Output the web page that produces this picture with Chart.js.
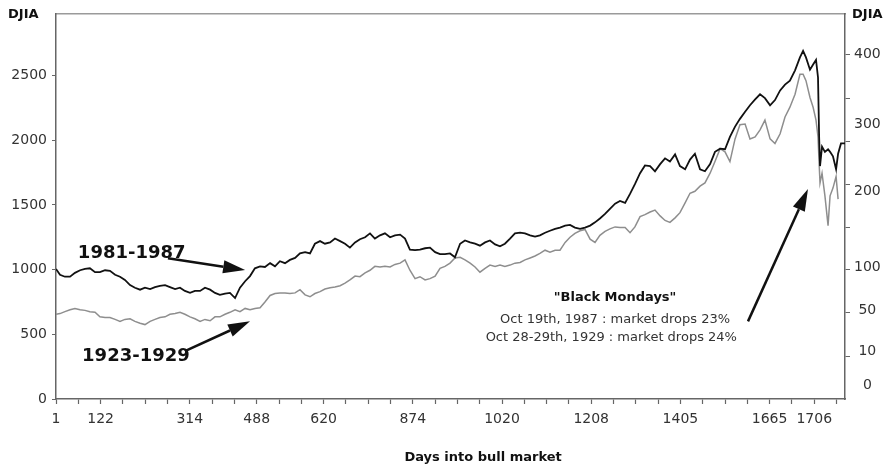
<!DOCTYPE html>
<html>
<head>
<meta charset="utf-8">
<script src="https://cdn.jsdelivr.net/npm/chart.js@4.4.0/dist/chart.umd.min.js"></script>
<style>
  html, body { margin: 0; padding: 0; background: #fff; }
</style>
</head>
<body>
<canvas id="djiaChart" width="887" height="466"></canvas>
<script>
"use strict";

// DATA -----------------------
// x is measured in tick steps of the bottom axis (the day labels are not evenly spaced)
const positions = [
  0, 0.18, 0.40, 0.63, 0.85, 1.08, 1.30, 1.52, 1.75, 1.97,
  2.20, 2.42, 2.65, 2.87, 3.09, 3.32, 3.54, 3.77, 3.99, 4.22,
  4.44, 4.66, 4.89, 5.11, 5.34, 5.56, 5.78, 6.01, 6.23, 6.46,
  6.68, 6.91, 7.13, 7.35, 7.58, 7.80, 8.03, 8.25, 8.48, 8.70,
  8.92, 9.15, 9.37, 9.60, 9.82, 10.04, 10.27, 10.49, 10.72, 10.94,
  11.17, 11.39, 11.61, 11.84, 12.06, 12.29, 12.51, 12.74, 12.96, 13.18,
  13.41, 13.63, 13.86, 14.08, 14.30, 14.53, 14.75, 14.98, 15.20, 15.43,
  15.65, 15.87, 16.10, 16.32, 16.55, 16.77, 17.00, 17.22, 17.44, 17.67,
  17.89, 18.12, 18.34, 18.57, 18.79, 19.01, 19.24, 19.46, 19.69, 19.91,
  20.13, 20.36, 20.58, 20.81, 21.03, 21.26, 21.48, 21.70, 21.93, 22.15,
  22.38, 22.60, 22.83, 23.05, 23.27, 23.50, 23.72, 23.95, 24.17, 24.39,
  24.62, 24.84, 25.07, 25.29, 25.52, 25.74, 25.96, 26.19, 26.41, 26.64,
  26.86, 27.09, 27.31, 27.53, 27.76, 27.98, 28.21, 28.43, 28.65, 28.88,
  29.10, 29.33, 29.55, 29.78, 30.00, 30.22, 30.45, 30.67, 30.90, 31.12,
  31.35, 31.57, 31.79, 32.02, 32.24, 32.47, 32.69, 32.91, 33.14, 33.36,
  33.50, 33.63, 33.81, 33.95, 34.08, 34.17, 34.22, 34.26, 34.35, 34.48,
  34.62, 34.71, 34.84, 34.98, 35.07, 35.20, 35.38
];

// 1981-1987, left axis
const djia1981 = [
  1005, 960, 945, 945, 975, 995, 1005, 1010, 980, 980,
  995, 990, 960, 945, 920, 880, 860, 845, 860, 850,
  865, 875, 880, 865, 850, 860, 835, 820, 835, 835,
  860, 845, 820, 805, 815, 820, 780, 860, 910, 950,
  1010, 1025, 1020, 1050, 1025, 1065, 1050, 1075, 1090, 1125,
  1135, 1125, 1200, 1220, 1200, 1210, 1240, 1220, 1200, 1170,
  1210, 1235, 1250, 1280, 1240, 1265, 1280, 1250, 1265, 1270,
  1240, 1155, 1150, 1155, 1165, 1170, 1135, 1120, 1120, 1125,
  1095, 1200, 1225, 1210, 1200, 1185, 1210, 1225, 1195, 1180,
  1200, 1240, 1280, 1285, 1280, 1265, 1255, 1265, 1285, 1300,
  1315, 1325, 1340, 1345, 1325, 1315, 1325, 1340, 1365, 1395,
  1430, 1470, 1510, 1530, 1515, 1585, 1660, 1745, 1805, 1800,
  1760, 1815, 1860, 1835, 1890, 1800, 1775, 1850, 1895, 1775,
  1760, 1815, 1910, 1935, 1930, 2025, 2105, 2165, 2220, 2270,
  2315, 2355, 2325, 2270, 2310, 2385, 2430, 2460, 2540, 2640,
  2690, 2640, 2545, 2585, 2620, 2485, 2025, 1800, 1950, 1910,
  1930, 1910, 1875, 1775, 1895, 1975, 1975
];

// 1923-1929, read against the left axis
const djia1923 = [
  655, 660, 675, 690, 700, 690, 685, 675, 670, 635,
  630, 630, 615, 600, 615, 620, 600, 585, 575, 600,
  615, 630, 635, 655, 660, 670, 655, 635, 620, 600,
  615, 605, 635, 635, 655, 670, 690, 675, 700, 690,
  700, 705, 750, 800, 815, 820, 820, 815, 820, 845,
  805, 790, 815, 830, 850, 860, 865, 875, 895, 920,
  950, 945, 975, 995, 1025, 1020, 1025, 1020, 1040, 1050,
  1075, 995, 930, 945, 920, 930, 950, 1010, 1025, 1050,
  1090, 1095, 1075, 1050, 1020, 980, 1010, 1035, 1025, 1035,
  1025, 1035, 1050, 1055, 1075, 1090, 1105, 1125, 1150, 1135,
  1150, 1150, 1210, 1250, 1280, 1300, 1310, 1235, 1210, 1265,
  1295, 1315, 1330, 1325, 1325, 1285, 1330, 1410, 1425, 1445,
  1460, 1415, 1380, 1365, 1400, 1440, 1515, 1590, 1605, 1645,
  1670, 1745, 1835, 1935, 1910, 1835, 2010, 2120, 2125, 2010,
  2025, 2080, 2155, 2010, 1975, 2050, 2180, 2255, 2355, 2510,
  2510, 2460, 2330, 2255, 2155, 2025, 1820, 1670, 1745, 1570,
  1340, 1570, 1630, 1720, 1545, null, null
];

const xTickPos = [0, 2, 6, 9, 12, 16, 20, 24, 28, 32, 34];
const xTickLabels = ['1', '122', '314', '488', '620', '874', '1020', '1208', '1405', '1665', '1706'];

const leftTicks = [0, 500, 1000, 1500, 2000, 2500];

// right axis: labels and tick marks, placed in left-axis units
const rightTickLabels = ['400', '300', '200', '100', '50', '10', '0'];
const rightTickValues = [2660, 2126, 1607, 1019, 683, 370, 103];
const rightMarkValues = [2660, 2324, 1989, 1661, 1326, 1004, 668, 332];

const Y_MAX = 2980;
const X_MAX = 35.38;

// OPTIONS -----------------------
Chart.defaults.font.family = '"DejaVu Sans", sans-serif';
Chart.defaults.color = '#333';

const axisColor = '#666';

function drawArrow(ctx, x1, y1, x2, y2){
  const ang = Math.atan2(y2 - y1, x2 - x1);
  const head = 22;
  const half = 6.5;
  const bx = x2 - head * Math.cos(ang);
  const by = y2 - head * Math.sin(ang);
  ctx.beginPath();
  ctx.moveTo(x1, y1);
  ctx.lineTo(bx, by);
  ctx.stroke();
  ctx.beginPath();
  ctx.moveTo(x2, y2);
  ctx.lineTo(bx + half * Math.sin(ang), by - half * Math.cos(ang));
  ctx.lineTo(bx - half * Math.sin(ang), by + half * Math.cos(ang));
  ctx.closePath();
  ctx.fill();
}

const notes = {
  id: 'notes',
  afterDraw(chart){
    const {ctx, chartArea, scales: {x, y}} = chart;
    const px = v => x.getPixelForValue(v);
    const py = v => y.getPixelForValue(v);
    ctx.save();
    ctx.fillStyle = '#111';
    ctx.strokeStyle = '#111';
    ctx.lineWidth = 2.5;
    ctx.textBaseline = 'middle';

    // series names
    ctx.font = 'bold 18px "DejaVu Sans"';
    ctx.textAlign = 'left';
    ctx.fillText('1981-1987', px(0.98), py(1125));
    ctx.fillText('1923-1929', px(1.17), py(332));
    drawArrow(ctx, px(5.02), py(1088), px(8.48), py(996));
    drawArrow(ctx, px(5.78), py(370), px(8.70), py(600));

    // black mondays
    ctx.textAlign = 'center';
    ctx.font = 'bold 13px "DejaVu Sans"';
    ctx.fillText('"Black Mondays"', px(25.07), py(782));
    ctx.fillStyle = '#333';
    ctx.font = '13px "DejaVu Sans"';
    ctx.fillText('Oct 19th, 1987 : market drops 23%', px(25.07), py(615));
    ctx.fillText('Oct 28-29th, 1929 : market drops 24%', px(24.9), py(477));
    ctx.fillStyle = '#111';
    drawArrow(ctx, px(31.03), py(600), px(33.72), py(1622));

    // axis captions
    ctx.font = 'bold 13px "DejaVu Sans"';
    ctx.textAlign = 'left';
    ctx.fillText('DJIA', chartArea.left - 48, 15);
    ctx.fillText('DJIA', chartArea.right + 7, 15);
    ctx.textAlign = 'center';
    ctx.fillText('Days into bull market', px(19.15), chartArea.bottom + 59);
    ctx.restore();
  }
};

// CHART -----------------------
const djiaChart = new Chart(document.getElementById('djiaChart').getContext('2d'), {
  type: 'line',
  data: {
    labels: positions,
    datasets: [{
      label: '1981-1987',
      data: positions.map((p, i) => ({x: p, y: djia1981[i]})),
      borderColor: '#111',
      borderWidth: 1.8,
      pointRadius: 0,
      tension: 0,
      yAxisID: 'y'
    }, {
      label: '1923-1929',
      data: positions.map((p, i) => ({x: p, y: djia1923[i]})),
      borderColor: '#8e8e8e',
      borderWidth: 1.5,
      pointRadius: 0,
      tension: 0,
      spanGaps: false,
      yAxisID: 'y'
    }]
  },
  options: {
    responsive: false,
    animation: false,
    layout: { padding: 0 },
    plugins: {
      legend: { display: false },
      tooltip: { enabled: false }
    },
    scales: {
      x: {
        type: 'linear',
        min: 0,
        max: X_MAX,
        border: { color: axisColor, width: 1.5 },
        grid: { drawOnChartArea: false, tickLength: 5, tickColor: axisColor, tickWidth: 1.2 },
        ticks: {
          stepSize: 1,
          includeBounds: false,
          autoSkip: false,
          maxRotation: 0,
          padding: 7,
          font: { size: 14 },
          callback: function(value){
            const i = xTickPos.indexOf(Math.round(value));
            return i >= 0 ? xTickLabels[i] : '';
          }
        },
        afterFit: function(scale){ scale.height = 67; }
      },
      xTop: {
        type: 'linear',
        position: 'top',
        min: 0,
        max: X_MAX,
        border: { color: '#9a9a9a', width: 1.5 },
        grid: { drawOnChartArea: false, drawTicks: false },
        ticks: { display: false },
        afterFit: function(scale){ scale.height = 10; }
      },
      y: {
        min: 0,
        max: Y_MAX,
        border: { color: axisColor, width: 1.5 },
        grid: { drawOnChartArea: false, tickLength: 4, tickColor: axisColor },
        ticks: {
          padding: 5,
          font: { size: 14 },
          callback: function(value){ return String(value); }
        },
        afterBuildTicks: function(scale){
          scale.ticks = leftTicks.map(v => ({value: v}));
        },
        afterFit: function(scale){ scale.width = 56; }
      },
      y2: {
        position: 'right',
        min: 0,
        max: Y_MAX,
        border: { color: axisColor, width: 1.5 },
        grid: {
          drawOnChartArea: false,
          tickLength: 5,
          tickColor: ctx => (ctx.tick && ctx.tick.mark) ? axisColor : 'rgba(0,0,0,0)'
        },
        ticks: {
          autoSkip: false,
          padding: 4,
          crossAlign: 'center',
          font: { size: 14 },
          callback: function(value, index, ticks){ return ticks[index].txt; }
        },
        afterBuildTicks: function(scale){
          const t = [];
          rightTickValues.forEach((v, i) => t.push({value: v, txt: rightTickLabels[i], mark: false}));
          rightMarkValues.forEach(v => t.push({value: v, txt: '', mark: true}));
          t.sort((a, b) => a.value - b.value);
          scale.ticks = t;
        },
        afterFit: function(scale){ scale.width = 42; }
      }
    }
  },
  plugins: [notes]
});
</script>
</body>
</html>
